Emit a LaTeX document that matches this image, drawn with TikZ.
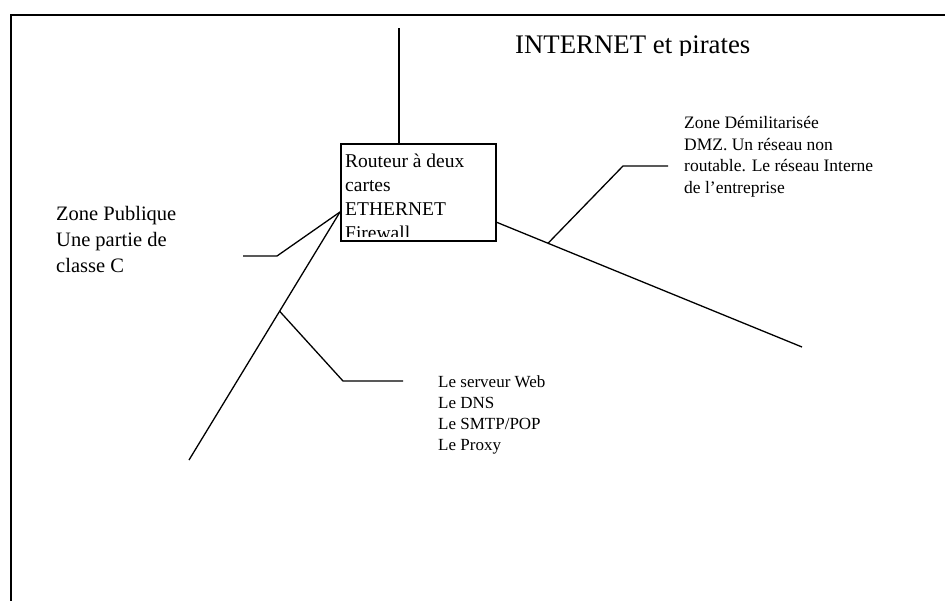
\documentclass[tikz,border=0pt]{standalone}
\usepackage{fontspec}
\setmainfont{Liberation Serif}
\usetikzlibrary{positioning,calc}
\tikzstyle{wire} = [line width=1.3pt]
\tikzstyle{txt} = [inner sep=0pt, anchor=base west, align=left]

\begin{document}
\begin{tikzpicture}[x=1pt, y=-1pt]
    \useasboundingbox (0,0) rectangle (945,600);
    % Frame
    \draw[line width=1.6pt] (11,601) -- (11,15) -- (946,15);
    % Nodes (base = baseline of the last line)
    \node[draw, line width=1.5pt, minimum width=155pt, minimum height=97pt, inner sep=0pt] (router) at (418.5,192.5) {};
    \begin{scope}
        \clip (router.north west) rectangle ([yshift=5pt]router.south east);
        \node[txt, font=\fontsize{19.5}{24}\selectfont] (routertxt) at (345,239) {Routeur à deux\\cartes\\ETHERNET\\Firewall};
    \end{scope}
    \begin{scope}
        \clip (400,0) rectangle (900,55.5);
        \node[txt, font=\fontsize{26.8}{32}\selectfont] (title) at (515,53) {INTERNET et pirates};
    \end{scope}
    % Points
    \coordinate (net) at (399,28);
    \coordinate (pubhub) at (340,212);
    \coordinate (lanend) at (189,460);
    \coordinate (pubknee) at (277,256);
    \coordinate (pubtip) at (243,256);
    \coordinate (srvknee) at (343,381);
    \coordinate (srvtip) at (403,381);
    \coordinate (dmzhub) at (496,222);
    \coordinate (dmzend) at (802,347);
    \coordinate (dmzknee) at (623,166);
    \coordinate (dmztip) at (668,166);
    % Lines
    \draw[wire] (net) -- (net |- router.north);
    \draw[wire] (pubhub) -- (lanend);
    \draw[wire] (pubtip) -- (pubknee) -- (pubhub);
    \draw[wire] ($(pubhub)!0.4!(lanend)$) -- (srvknee) -- (srvtip);
    \draw[wire] (dmzhub) -- (dmzend);
    \draw[wire] ($(dmzhub)!0.17!(dmzend)$) -- (dmzknee) -- (dmztip);
    % Labels
    \node[txt, font=\fontsize{20.5}{26}\selectfont] (pubtxt) at (56,272) {Zone Publique\\Une partie de\\classe C};
    \node[txt, font=\fontsize{17.5}{21.5}\selectfont] (dmztxt) at (684,193) {Zone Démilitarisée\\DMZ. Un réseau non\\routable. Le réseau Interne\\de l’entreprise};
    \node[txt, font=\fontsize{17}{21}\selectfont] (srvtxt) at (438,450) {Le serveur Web\\Le DNS\\Le SMTP/POP\\Le Proxy};
\end{tikzpicture}
\end{document}
